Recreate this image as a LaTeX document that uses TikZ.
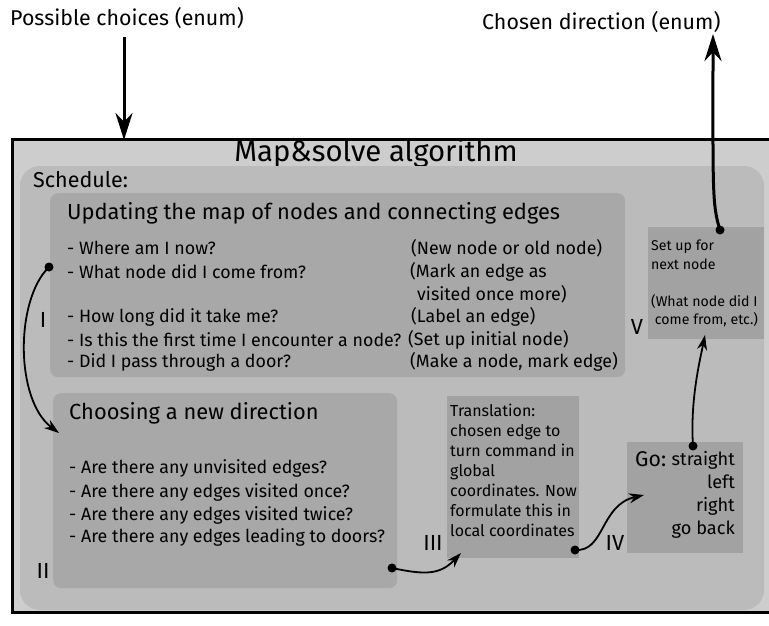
\documentclass[tikz,border=0pt]{standalone}
\usepackage{fontspec}
\setmainfont{Fira Sans}[Scale=1.15]
\usetikzlibrary{arrows.meta}
\definecolor{outerfill}{HTML}{CDCDCD}
\definecolor{schedfill}{HTML}{BBBBBB}
\definecolor{stagefill}{HTML}{A8A8A8}
\definecolor{stepfill}{HTML}{A2A2A2}
\tikzset{
  stage/.style={fill=stagefill, rounded corners=8pt, anchor=north west, inner sep=0pt},
  plainbox/.style={fill=stepfill, anchor=north west, inner sep=0pt},
  txt/.style={anchor=west, inner sep=0pt, font=\fontsize{15.5}{18}\selectfont},
  hdr/.style={anchor=west, inner sep=0pt, font=\fontsize{19}{24}\selectfont},
  roman/.style={anchor=center, inner sep=0pt, font=\fontsize{19}{24}\selectfont},
  flow/.style={line width=1.8pt, -{Stealth[length=15pt, width=10pt]}},
  bigflow/.style={line width=3pt, -{Stealth[length=27pt, width=17pt]}},
  dot/.style={fill=black, circle, inner sep=0pt, minimum size=9pt},
}
\begin{document}
\begin{tikzpicture}[x=1pt, y=-1pt]
\useasboundingbox (0,0) rectangle (769,625);
% outer algorithm box
\begin{scope}
\clip (0,0) rectangle (769,625);
\draw[line width=3pt, fill=outerfill] (12,139) rectangle (800,612);
\end{scope}
\node[anchor=center, font=\fontsize{25.5}{30}\selectfont, inner sep=0pt] (title) at (376,153) {Map\&solve algorithm};
% schedule area
\fill[schedfill, rounded corners=20pt] (20,166) rectangle (764,610);
\node[hdr, font=\fontsize{18.7}{22}\selectfont] (sched) at (33,180) {Schedule:};
% stage I
\node[stage, minimum width=575pt, minimum height=184pt] (upd) at (50,193) {};
\node[hdr] (updt) at (67,213) {Updating the map of nodes and connecting edges};
\node[txt] (a1) at (67,248) {- Where am I now?};
\node[txt] (a2) at (67,272) {- What node did I come from?};
\node[txt] (a3) at (67,317) {- How long did it take me?};
\node[txt] (a4) at (67,340) {- Is this the first time I encounter a node?};
\node[txt] (a5) at (67,362) {- Did I pass through a door?};
\node[txt] (b1) at (411,248) {(New node or old node)};
\node[txt] (b2) at (410,272) {(Mark an edge as};
\node[txt] (b3) at (417,294) {visited once more)};
\node[txt] (b4) at (411,317) {(Label an edge)};
\node[txt] (b5) at (408,340) {(Set up initial node)};
\node[txt] (b6) at (410,362) {(Make a node, mark edge)};
% stage II
\node[stage, minimum width=344pt, minimum height=195pt] (cho) at (53,393) {};
\node[hdr] (chot) at (69,413) {Choosing a new direction};
\node[txt] (c1) at (69,468) {- Are there any unvisited edges?};
\node[txt] (c2) at (69,492) {- Are there any edges visited once?};
\node[txt] (c3) at (69,515) {- Are there any edges visited twice?};
\node[txt] (c4) at (69,537) {- Are there any edges leading to doors?};
% stage III
\node[plainbox, minimum width=132pt, minimum height=162pt] (tra) at (447,396) {};
\node[anchor=north west, inner sep=0pt, align=left, font=\fontsize{13.9}{20}\selectfont] (trat) at (450,404)
  {Translation:\\chosen edge to\\turn command in\\global\\coordinates. Now\\formulate this in\\local coordinates};
% stage IV
\node[plainbox, minimum width=116pt, minimum height=111pt] (go) at (627,442) {};
\node[anchor=base west, inner sep=0pt, font=\fontsize{18.5}{24}\selectfont] (gol) at (635,466) {Go:};
\node[anchor=north east, inner sep=0pt, align=right, font=\fontsize{15.8}{23}\selectfont] (gor) at (735,451)
  {straight\\left\\right\\go back};
% stage V
\node[plainbox, minimum width=116pt, minimum height=112pt] (nxt) at (648,227) {};
\node[anchor=north west, inner sep=0pt, align=left, font=\fontsize{12.3}{18.5}\selectfont] (nxtt) at (651,240)
  {Set up for\\next node\\[18.5pt](What node did I\\\ come from, etc.)};
% stage numerals
\node[roman] (r1) at (43,320) {I};
\node[roman] (r2) at (43,571) {II};
\node[roman] (r3) at (433,543) {III};
\node[roman] (r4) at (615,543) {IV};
\node[roman] (r5) at (637,327) {V};
% inputs and outputs
\node[anchor=west, inner sep=0pt, font=\fontsize{18.6}{22}\selectfont] (inp) at (10,18) {Possible choices (enum)};
\node[anchor=west, inner sep=0pt, font=\fontsize{18.6}{22}\selectfont] (outp) at (482,22) {Chosen direction (enum)};
% connector end points
\coordinate (inS) at (124,37);
\coordinate (inE) at (124,140);
\coordinate (p1) at (49,267);
\coordinate (q1) at (59,433);
\coordinate (p2) at (392,568);
\coordinate (q2) at (461,553);
\coordinate (p3) at (575,550);
\coordinate (q3) at (644,495);
\coordinate (p4) at (693,446);
\coordinate (q4) at (705,335);
\coordinate (p5) at (720,230);
\coordinate (q5) at (713,34);
% connectors
\draw[bigflow] (inS) -- (inE);
\draw[flow] (p1) .. controls (15,300) and (15,400) .. (q1);
\draw[flow] (p2) .. controls (425,575) and (440,575) .. (q2);
\draw[flow] (p3) .. controls (605,552) and (600,505) .. (q3);
\draw[flow] (p4) .. controls (690,400) and (700,360) .. (q4);
\draw[bigflow] (p5) .. controls (712,205) and (713,190) .. (q5);
\node[dot] at (p1) {};
\node[dot] at (p2) {};
\node[dot] at (p3) {};
\node[dot] at (p4) {};
\node[dot] at (p5) {};
\end{tikzpicture}
\end{document}
